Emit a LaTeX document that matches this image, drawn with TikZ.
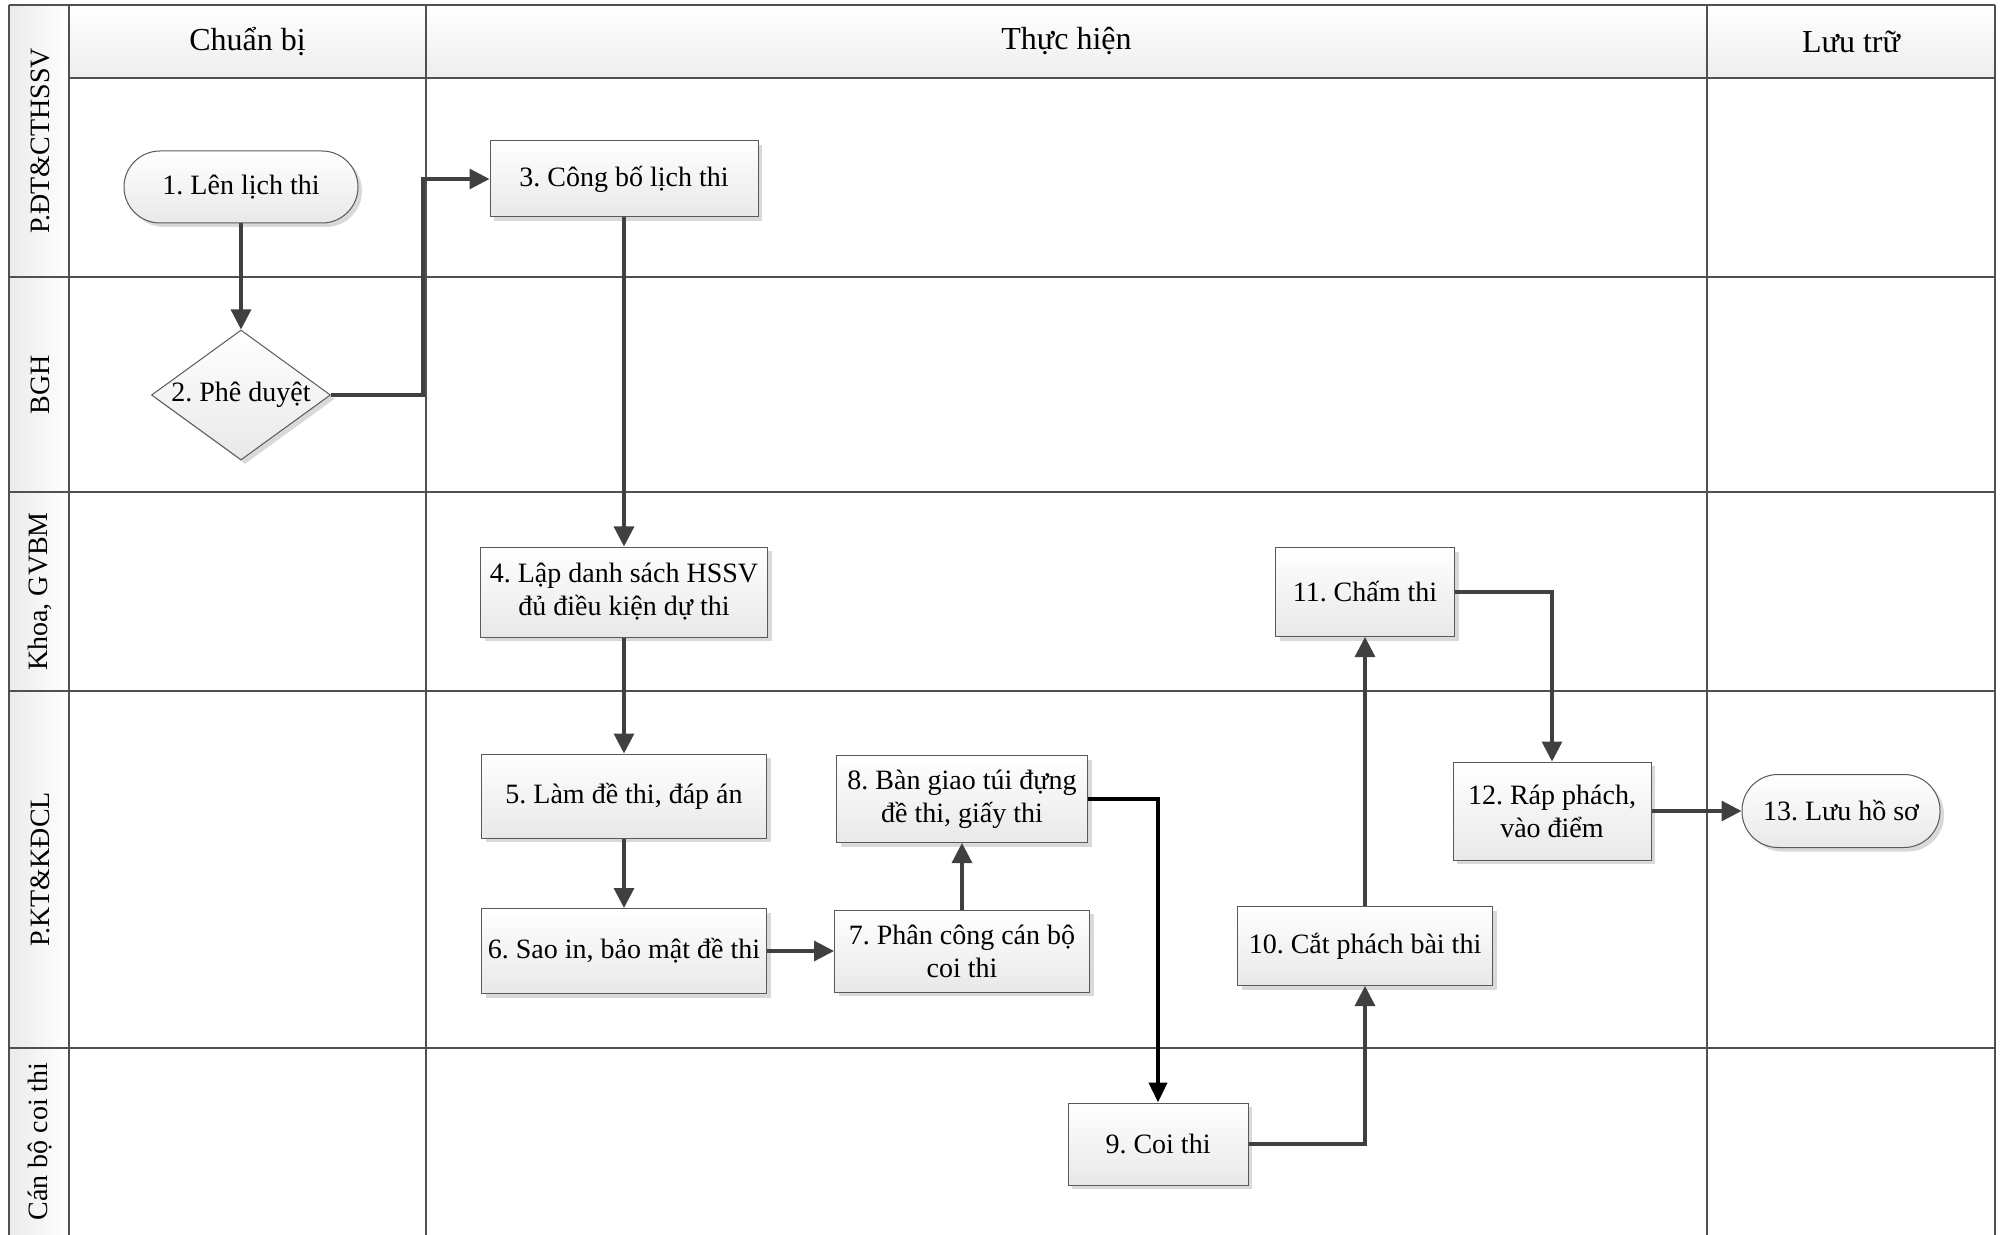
\documentclass[tikz,border=0pt]{standalone}
\usepackage{fontspec}
\setmainfont{Liberation Serif}
\usetikzlibrary{shapes.geometric,shadows,arrows.meta}
\definecolor{gridc}{HTML}{505050}
\definecolor{connc}{HTML}{404040}
\frenchspacing
\begin{document}
\begin{tikzpicture}[x=0.5pt,y=-0.5pt,
  gridline/.style={draw=gridc,line width=0.9pt},
  headcell/.style={top color=white,bottom color=black!7,draw=none},
  labcell/.style={left color=black!8,right color=white,draw=none},
  headtext/.style={font=\fontsize{16}{19}\selectfont},
  labtext/.style={font=\fontsize{14}{17}\selectfont,rotate=90},
  box/.style={draw=black!65,line width=0.5pt,top color=white,bottom color=black!9,
    font=\fontsize{14}{16.5}\selectfont,align=center,inner sep=0pt,
    drop shadow={shadow xshift=2pt,shadow yshift=-2pt,fill=black!15,opacity=1}},
  stadium/.style={box,rounded corners=18pt},
  decision/.style={box,diamond,shape aspect=1.4},
  conn/.style={draw=connc,line width=1.6pt,-{Triangle[length=10pt,width=10pt]}},
  connk/.style={draw=black,line width=2pt,-{Triangle[length=10pt,width=9pt]}}
]
\useasboundingbox (0,0) rectangle (2003,1235);
% header and label cells
\path[headcell] (69,5) rectangle (426,78);
\path[headcell] (426,5) rectangle (1707,78);
\path[headcell] (1707,5) rectangle (1995,78);
\path[labcell] (9,5) rectangle (69,1235);
% grid lines
\draw[gridline] (9,5) -- (1995,5);
\draw[gridline] (9,5) -- (9,1235);
\draw[gridline] (1995,5) -- (1995,1235);
\draw[gridline] (69,5) -- (69,1235);
\draw[gridline] (69,78) -- (1995,78);
\draw[gridline] (426,5) -- (426,1235);
\draw[gridline] (1707,5) -- (1707,1235);
\foreach \yy in {277,492,691,1048} \draw[gridline] (9,\yy) -- (1995,\yy);
% header texts
\node[headtext] (hA) at (247.5,41.5) {Chuẩn bị};
\node[headtext] (hB) at (1066.5,41.5) {Thực hiện};
\node[headtext] (hC) at (1851,41.5) {Lưu trữ};
% lane labels
\node[labtext] (l1) at (40,141) {P.ĐT\&CTHSSV};
\node[labtext] (l2) at (40,384.5) {BGH};
\node[labtext] (l3) at (40,591.5) {Khoa, GVBM};
\node[labtext] (l4) at (40,869.5) {P.KT\&KĐCL};
\node[labtext] (l5) at (40,1141.5) {Cán bộ coi thi};
% nodes
\node[stadium,minimum width=117pt,minimum height=36pt] (n1) at (241,187) {1. Lên lịch thi};
\node[decision,minimum width=89.5pt,minimum height=65pt] (n2) at (241,395) {2. Phê duyệt};
\node[box,minimum width=134pt,minimum height=38pt] (n3) at (624,179) {3. Công bố lịch thi};
\node[box,minimum width=143.5pt,minimum height=45pt] (n4) at (624,592) {4. Lập danh sách HSSV\\đủ điều kiện dự thi};
\node[box,minimum width=142.5pt,minimum height=42pt] (n5) at (624,796) {5. Làm đề thi, đáp án};
\node[box,minimum width=142.5pt,minimum height=42.5pt] (n6) at (624,951) {6. Sao in, bảo mật đề thi};
\node[box,minimum width=127.5pt,minimum height=41pt] (n7) at (962,951) {7. Phân công cán bộ\\coi thi};
\node[box,minimum width=125.5pt,minimum height=43.5pt] (n8) at (962,799) {8. Bàn giao túi đựng\\đề thi, giấy thi};
\node[box,minimum width=90pt,minimum height=41pt] (n9) at (1158,1144) {9. Coi thi};
\node[box,minimum width=127.5pt,minimum height=39.5pt] (n10) at (1365,946) {10. Cắt phách bài thi};
\node[box,minimum width=89.5pt,minimum height=44.5pt] (n11) at (1365,592) {11. Chấm thi};
\node[box,minimum width=99pt,minimum height=49pt] (n12) at (1552,811) {12. Ráp phách,\\vào điểm};
\node[stadium,minimum width=99pt,minimum height=36.5pt] (n13) at (1841,811) {13. Lưu hồ sơ};
% connectors
\coordinate (c23) at (423,179);
\draw[conn] (n1.south) -- (n2.north);
\draw[conn] (n2.east) -| (c23) -- (n3.west);
\draw[conn] (n3.south) -- (n4.north);
\draw[conn] (n4.south) -- (n5.north);
\draw[conn] (n5.south) -- (n6.north);
\draw[conn] (n6.east) -- (n7.west);
\draw[conn] (n7.north) -- (n8.south);
\draw[connk] (n8.east) -| (n9.north);
\draw[conn] (n9.east) -| (n10.south);
\draw[conn] (n10.north) -- (n11.south);
\draw[conn] (n11.east) -| (n12.north);
\draw[conn] (n12.east) -- (n13.west);
\end{tikzpicture}
\end{document}
